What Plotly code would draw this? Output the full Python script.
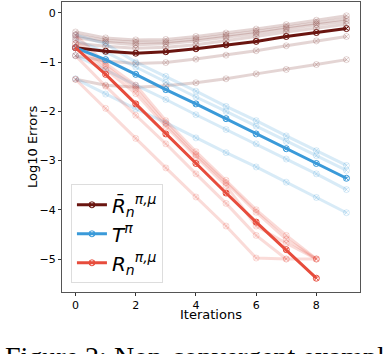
import plotly.graph_objects as go

# iterations
iters = list(range(10))

# main curves (log10 errors)
rbar_main = [-0.71, -0.78, -0.82, -0.79, -0.73, -0.65, -0.58, -0.48, -0.40, -0.32]
t_main = [-0.71, -0.95, -1.25, -1.56, -1.85, -2.15, -2.46, -2.76, -3.06, -3.36]
r_main = [-0.71, -1.25, -1.85, -2.46, -3.06, -3.66, -4.25, -4.81, -5.39]

# faint runs
rbar_runs = [
    [-0.39, -0.51, -0.55, -0.54, -0.48, -0.41, -0.33, -0.24, -0.15, -0.06],
    [-0.45, -0.56, -0.60, -0.59, -0.53, -0.46, -0.38, -0.29, -0.20, -0.12],
    [-0.50, -0.60, -0.65, -0.63, -0.57, -0.50, -0.42, -0.33, -0.24, -0.17],
    [-0.62, -0.68, -0.72, -0.70, -0.65, -0.57, -0.48, -0.39, -0.31, -0.23],
    [-0.87, -0.98, -1.03, -1.01, -0.94, -0.86, -0.77, -0.67, -0.57, -0.48],
    [-1.35, -1.47, -1.51, -1.48, -1.42, -1.34, -1.24, -1.15, -1.05, -0.95],
]
t_runs = [
    [-0.45, -0.63, -1.00, -1.29, -1.59, -1.90, -2.19, -2.50, -2.80, -3.10],
    [-0.55, -0.80, -1.10, -1.41, -1.71, -2.00, -2.30, -2.61, -2.90, -3.20],
    [-0.87, -1.16, -1.47, -1.76, -2.07, -2.37, -2.66, -2.97, -3.27, -3.59],
    [-1.34, -1.65, -1.95, -2.23, -2.54, -2.84, -3.13, -3.44, -3.75, -4.06],
]
r_runs = [
    [-0.45, -1.03, -1.47, -2.19, -2.82, -3.40, -4.00, -4.52, -5.00],
    [-0.55, -1.08, -1.55, -2.25, -2.88, -3.45, -4.05, -4.60, -5.00],
    [-0.63, -1.15, -1.64, -2.31, -2.92, -3.51, -4.33, -4.68, -5.00],
    [-0.87, -1.49, -2.08, -2.66, -3.27, -3.87, -4.52, -5.00],
    [-1.35, -1.94, -2.55, -3.15, -3.74, -4.33, -4.98, -5.00, -5.00],
]

BROWN = "106,21,16"
BLUE = "58,154,217"
RED = "231,76,60"

fig = go.Figure()


def add_line(ys, rgb, alpha, name=None, legend=False):
    col = f"rgba({rgb},{alpha})"
    fig.add_trace(go.Scatter(
        x=iters[:len(ys)], y=ys, mode="lines+markers", name=name,
        showlegend=legend,
        line=dict(color=col, width=3),
        marker=dict(symbol="circle-x-open", size=6, color=col, line=dict(width=1, color=col)),
    ))


for run in rbar_runs:
    add_line(run, BROWN, 0.18)
for run in t_runs:
    add_line(run, BLUE, 0.2)
for run in r_runs:
    add_line(run, RED, 0.2)

add_line(rbar_main, BROWN, 1, "<i>R̄</i><sub><i>n</i></sub><sup><i>π,μ</i></sup>", True)
add_line(t_main, BLUE, 1, "<i>T</i><sup><i>π</i></sup>", True)
add_line(r_main, RED, 1, "<i>R</i><sub><i>n</i></sub><sup><i>π,μ</i></sup>", True)

axis = dict(
    showgrid=False, zeroline=False, showline=True, mirror=True, automargin=False,
    linecolor="#555", linewidth=1, ticks="outside", ticklen=3,
    tickcolor="#333", tickfont=dict(size=11, color="black"),
)

fig.update_layout(
    width=388, height=354,
    margin=dict(l=62, r=28, t=2, b=62, autoexpand=False),
    paper_bgcolor="white", plot_bgcolor="white",
    font=dict(family="DejaVu Sans", color="black"),
    xaxis=dict(axis, range=[-0.45, 9.45], tickvals=[0, 2, 4, 6, 8]),
    yaxis=dict(axis, range=[-5.67, 0.22], tickvals=[0, -1, -2, -3, -4, -5],
               ticktext=["0", "−1", "−2", "−3", "−4", "−5"]),
    legend=dict(x=0.03, y=0.03, xanchor="left", yanchor="bottom",
                bgcolor="rgba(255,255,255,0.8)", bordercolor="#ddd", borderwidth=1,
                font=dict(size=20), tracegroupgap=0),
    showlegend=True,
    hovermode=False,
)

# axis titles placed as annotations to sit close to the tick labels
fig.add_annotation(
    text="Iterations", xref="paper", yref="paper", x=0.5, y=0, yshift=-22,
    xanchor="center", yanchor="middle", showarrow=False, font=dict(size=13),
)
fig.add_annotation(
    text="Log10 Errors", xref="paper", yref="paper", x=0, y=0.5, xshift=-30,
    xanchor="center", yanchor="middle", textangle=-90, showarrow=False,
    font=dict(size=13),
)

fig.add_annotation(
    text="Figure 2: Non-convergent example", xref="paper", yref="paper",
    x=0, y=0, xshift=-59, yshift=-47, xanchor="left", yanchor="top", showarrow=False,
    font=dict(family="Liberation Serif", size=28, color="black"),
)

fig.write_html("out.html", config={"displayModeBar": False},
               post_script="document.body.style.margin='0';")
